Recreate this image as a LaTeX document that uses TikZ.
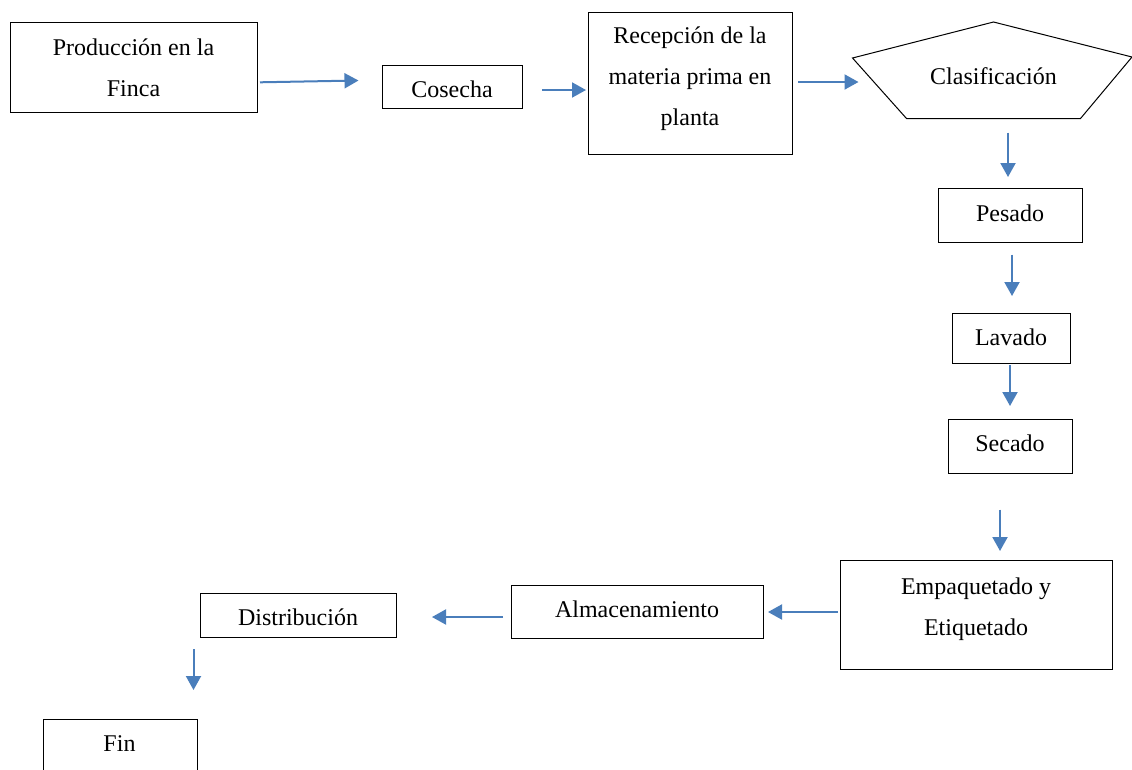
\documentclass[tikz,border=0pt]{standalone}
\usepackage{fontspec}
\setmainfont{Liberation Serif}
\usetikzlibrary{arrows.meta}
\definecolor{arrowblue}{HTML}{4A7EBB}
\tikzset{
  box/.style={draw=black, line width=1pt, inner sep=0pt, anchor=north west},
  lbl/.style={inner sep=0pt, align=center, font=\fontsize{24}{41}\selectfont},
  flow/.style={draw=arrowblue, line width=2pt, -{Triangle[length=14pt,width=15pt]}}
}
\begin{document}
\begin{tikzpicture}[x=1pt,y=-1pt]
\useasboundingbox (0,0) rectangle (1132,769);
\clip (0,0) rectangle (1132,769);
% boxes
\node[box, minimum width=247pt, minimum height=90pt] (prod) at (10,22) {};
\node[lbl] (prodt) at (133.5,67.5) {Producción en la\\Finca};
\node[box, minimum width=140pt, minimum height=43pt] (cos) at (382,65) {};
\node[lbl] (cost) at (452,89) {Cosecha};
\node[box, minimum width=204pt, minimum height=142pt] (rec) at (588,12) {};
\node[lbl] (rect) at (690,79) {Recepción de la\\materia prima en\\planta};
% pentagon
\coordinate (pt) at (993.5,22);
\coordinate (pl) at (852.5,58);
\coordinate (pr) at (1132,57);
\coordinate (pbl) at (906.5,118.5);
\coordinate (pbr) at (1080.5,118.5);
\draw[line width=1pt] (pt) -- (pr) -- (pbr) -- (pbl) -- (pl) -- cycle;
\node[lbl] (clat) at (993.5,76) {Clasificación};
\node[box, minimum width=144pt, minimum height=54pt] (pes) at (938,188) {};
\node[lbl] (pest) at (1010,213) {Pesado};
\node[box, minimum width=118pt, minimum height=50pt] (lav) at (952,312.5) {};
\node[lbl] (lavt) at (1011,337) {Lavado};
\node[box, minimum width=124pt, minimum height=54pt] (sec) at (948,418.5) {};
\node[lbl] (sect) at (1010,443) {Secado};
\node[box, minimum width=272pt, minimum height=109pt] (emp) at (840,560) {};
\node[lbl] (empt) at (976,609.5) {Empaquetado y\\Etiquetado};
\node[box, minimum width=252pt, minimum height=53pt] (alm) at (511,585) {};
\node[lbl] (almt) at (637,609) {Almacenamiento};
\node[box, minimum width=196pt, minimum height=44pt] (dis) at (200,592.5) {};
\node[lbl] (dist) at (298,617) {Distribución};
\node[box, minimum width=154pt, minimum height=80pt] (fin) at (42.5,719) {};
\node[lbl] (fint) at (119.5,744) {Fin};
% arrow endpoints
\coordinate (a1) at (260,82.3); \coordinate (a2) at (358.5,80.5);
\coordinate (b1) at (542,90); \coordinate (b2) at (586,90);
\coordinate (c1) at (798,82); \coordinate (c2) at (858.5,82);
\coordinate (d1) at (1008,132.5); \coordinate (d2) at (1008,177);
\coordinate (e1) at (1012,254.5); \coordinate (e2) at (1012,296);
\coordinate (f1) at (1010,365); \coordinate (f2) at (1010,406);
\coordinate (g1) at (1000,509.5); \coordinate (g2) at (1000,551);
\coordinate (h1) at (838,612); \coordinate (h2) at (768,612);
\coordinate (i1) at (503,617); \coordinate (i2) at (432,617);
\coordinate (j1) at (193.5,649); \coordinate (j2) at (193.5,690);
\draw[flow] (a1) -- (a2);
\draw[flow] (b1) -- (b2);
\draw[flow] (c1) -- (c2);
\draw[flow] (d1) -- (d2);
\draw[flow] (e1) -- (e2);
\draw[flow] (f1) -- (f2);
\draw[flow] (g1) -- (g2);
\draw[flow] (h1) -- (h2);
\draw[flow] (i1) -- (i2);
\draw[flow] (j1) -- (j2);
\end{tikzpicture}
\end{document}
